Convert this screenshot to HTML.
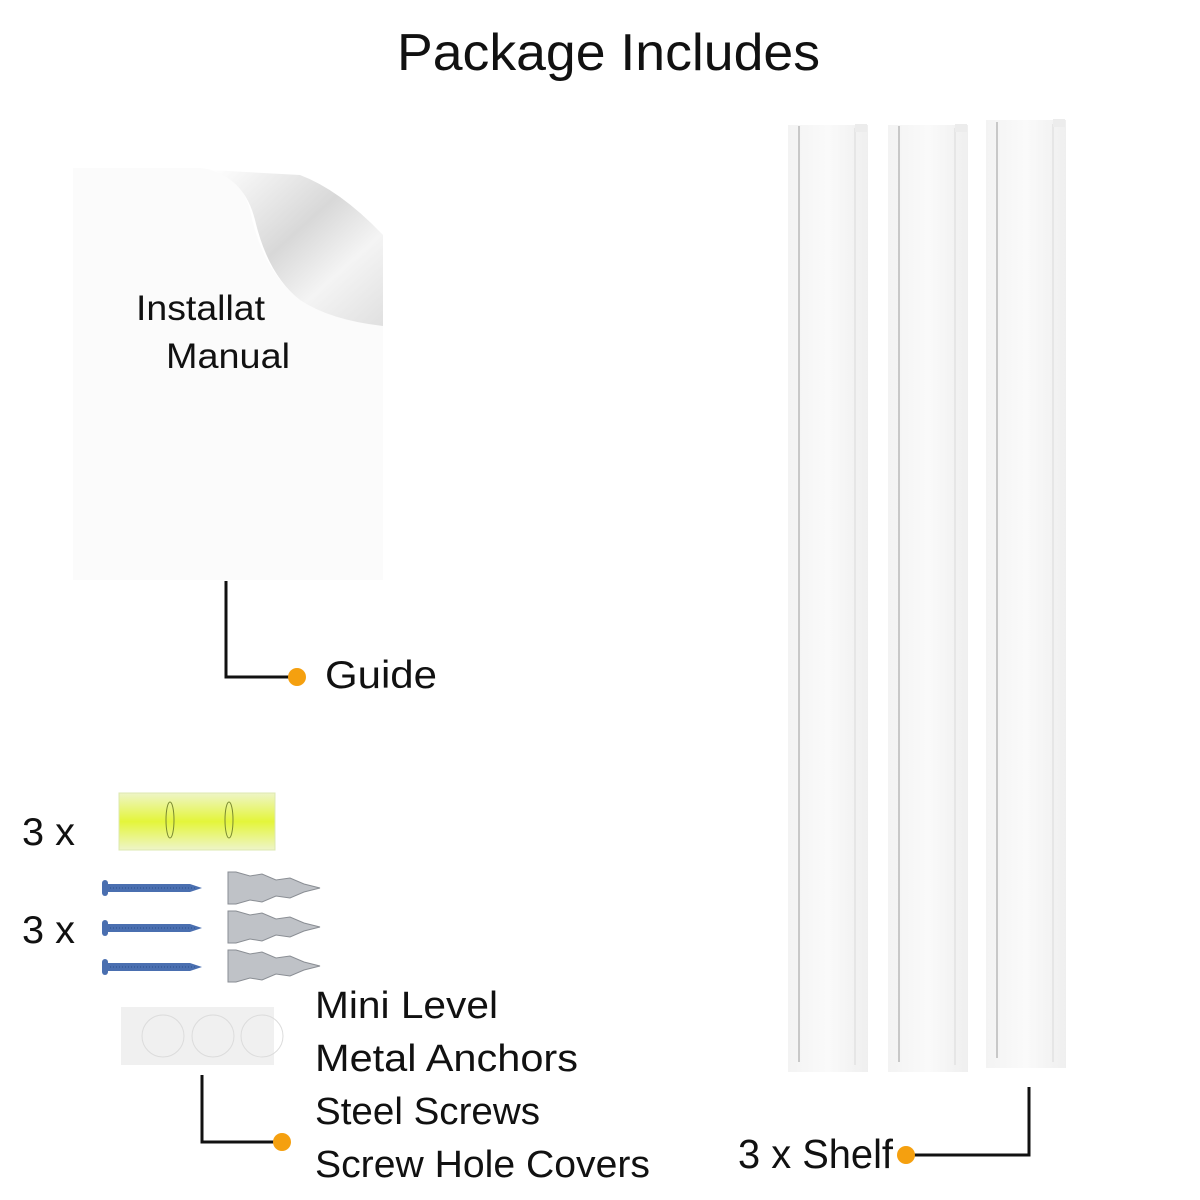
<!DOCTYPE html>
<html><head><meta charset="utf-8"><style>
html,body{margin:0;padding:0;background:#fff;}
svg{display:block;}
text{font-family:"Liberation Sans",sans-serif;fill:#111;}
</style></head><body>
<svg width="1200" height="1200" viewBox="0 0 1200 1200" xmlns="http://www.w3.org/2000/svg">
<defs>
<linearGradient id="curl" x1="0" y1="0" x2="1" y2="1">
<stop offset="0" stop-color="#fff"/><stop offset="0.45" stop-color="#d8d8d8"/><stop offset="0.7" stop-color="#f4f4f4"/><stop offset="1" stop-color="#e0e0e0"/>
</linearGradient>
<linearGradient id="shelf" x1="0" y1="0" x2="1" y2="0">
<stop offset="0" stop-color="#f3f3f3"/><stop offset="0.5" stop-color="#fafafa"/><stop offset="1" stop-color="#efefef"/>
</linearGradient>
<linearGradient id="lvl" x1="0" y1="0" x2="0" y2="1">
<stop offset="0" stop-color="#eef5c8"/><stop offset="0.5" stop-color="#e4f53a"/><stop offset="1" stop-color="#eef5c8"/>
</linearGradient>
</defs>

<text x="397" y="70" font-size="52" textLength="423" lengthAdjust="spacingAndGlyphs">Package Includes</text>

<!-- manual -->
<rect x="73" y="168" width="310" height="412" fill="#fbfbfb"/>
<path d="M200 168 Q240 172 250 210 Q262 270 300 300 Q340 322 383 322 L383 168 Z" fill="#fff"/>
<path d="M210 170 Q245 180 255 220 Q268 275 300 300 Q330 320 383 326 L383 235 Q340 190 300 175 Z" fill="url(#curl)"/>
<text x="136" y="320" font-size="35" textLength="129" lengthAdjust="spacingAndGlyphs">Installat</text>
<text x="166" y="368" font-size="35" textLength="124" lengthAdjust="spacingAndGlyphs">Manual</text>

<!-- guide connector -->
<polyline points="226,581 226,677 297,677" fill="none" stroke="#111" stroke-width="3"/>
<circle cx="297" cy="677" r="9" fill="#f5a00f"/>
<text x="325" y="688" font-size="39" textLength="112" lengthAdjust="spacingAndGlyphs">Guide</text>

<!-- level -->
<rect x="119" y="793" width="156" height="57" fill="url(#lvl)" stroke="#dde8b0"/>
<ellipse cx="170" cy="820" rx="4" ry="18" fill="none" stroke="#7a8a30" stroke-width="1"/>
<ellipse cx="229" cy="820" rx="4" ry="18" fill="none" stroke="#7a8a30" stroke-width="1"/>

<text x="22" y="845" font-size="39" textLength="53" lengthAdjust="spacingAndGlyphs">3 x</text>
<text x="22" y="943" font-size="39" textLength="53" lengthAdjust="spacingAndGlyphs">3 x</text>

<!-- screws -->
<g fill="#4a6fb0">
<rect x="102" y="880" width="6" height="16" rx="3"/><path d="M108 884 L190 884 L202 888 L190 892 L108 892 Z"/>
<rect x="102" y="920" width="6" height="16" rx="3"/><path d="M108 924 L190 924 L202 928 L190 932 L108 932 Z"/>
<rect x="102" y="959" width="6" height="16" rx="3"/><path d="M108 963 L190 963 L202 967 L190 971 L108 971 Z"/>
</g>
<g stroke="#2c4f8c" stroke-width="1" stroke-dasharray="1 2">
<line x1="110" y1="888" x2="195" y2="888"/><line x1="110" y1="928" x2="195" y2="928"/><line x1="110" y1="967" x2="195" y2="967"/>
</g>
<!-- anchors -->
<g fill="#bfc2c7" stroke="#8a8e94" stroke-width="1">
<path d="M228 872 L236 872 L250 876 L262 874 L276 880 L290 878 L304 884 L320 888 L304 892 L290 898 L276 896 L262 902 L250 900 L236 904 L228 904 Z"/>
<path d="M228 911 L236 911 L250 915 L262 913 L276 919 L290 917 L304 923 L320 927 L304 931 L290 937 L276 935 L262 941 L250 939 L236 943 L228 943 Z"/>
<path d="M228 950 L236 950 L250 954 L262 952 L276 958 L290 956 L304 962 L320 966 L304 970 L290 976 L276 974 L262 980 L250 978 L236 982 L228 982 Z"/>
</g>

<!-- hole covers -->
<rect x="121" y="1007" width="153" height="58" fill="#f0f0f0"/>
<circle cx="163" cy="1036" r="21" fill="none" stroke="#dcdcdc"/>
<circle cx="213" cy="1036" r="21" fill="none" stroke="#dcdcdc"/>
<circle cx="262" cy="1036" r="21" fill="none" stroke="#dcdcdc"/>

<polyline points="202,1075 202,1142 282,1142" fill="none" stroke="#111" stroke-width="3"/>
<circle cx="282" cy="1142" r="9" fill="#f5a00f"/>
<text x="315" y="1018" font-size="38" textLength="183" lengthAdjust="spacingAndGlyphs">Mini Level</text>
<text x="315" y="1071" font-size="38" textLength="263" lengthAdjust="spacingAndGlyphs">Metal Anchors</text>
<text x="315" y="1124" font-size="38" textLength="225" lengthAdjust="spacingAndGlyphs">Steel Screws</text>
<text x="315" y="1177" font-size="38" textLength="335" lengthAdjust="spacingAndGlyphs">Screw Hole Covers</text>

<!-- shelves -->
<g>
<rect x="788" y="125" width="80" height="947" fill="url(#shelf)"/>
<line x1="799" y1="126" x2="799" y2="1062" stroke="#c8c8c8" stroke-width="2"/>
<line x1="855" y1="128" x2="855" y2="1065" stroke="#e6e6e6" stroke-width="2"/>
<rect x="855" y="124" width="12" height="8" fill="#ececec"/>
<rect x="888" y="125" width="80" height="947" fill="url(#shelf)"/>
<line x1="899" y1="126" x2="899" y2="1062" stroke="#c8c8c8" stroke-width="2"/>
<line x1="955" y1="128" x2="955" y2="1065" stroke="#e6e6e6" stroke-width="2"/>
<rect x="955" y="124" width="12" height="8" fill="#ececec"/>
<rect x="986" y="120" width="80" height="948" fill="url(#shelf)"/>
<line x1="997" y1="122" x2="997" y2="1058" stroke="#c8c8c8" stroke-width="2"/>
<line x1="1053" y1="124" x2="1053" y2="1062" stroke="#e6e6e6" stroke-width="2"/>
<rect x="1053" y="119" width="12" height="8" fill="#ececec"/>
</g>

<polyline points="1029,1087 1029,1155 906,1155" fill="none" stroke="#111" stroke-width="3"/>
<circle cx="906" cy="1155" r="9" fill="#f5a00f"/>
<text x="738" y="1168" font-size="41" textLength="155" lengthAdjust="spacingAndGlyphs">3 x Shelf</text>
</svg>
</body></html>
